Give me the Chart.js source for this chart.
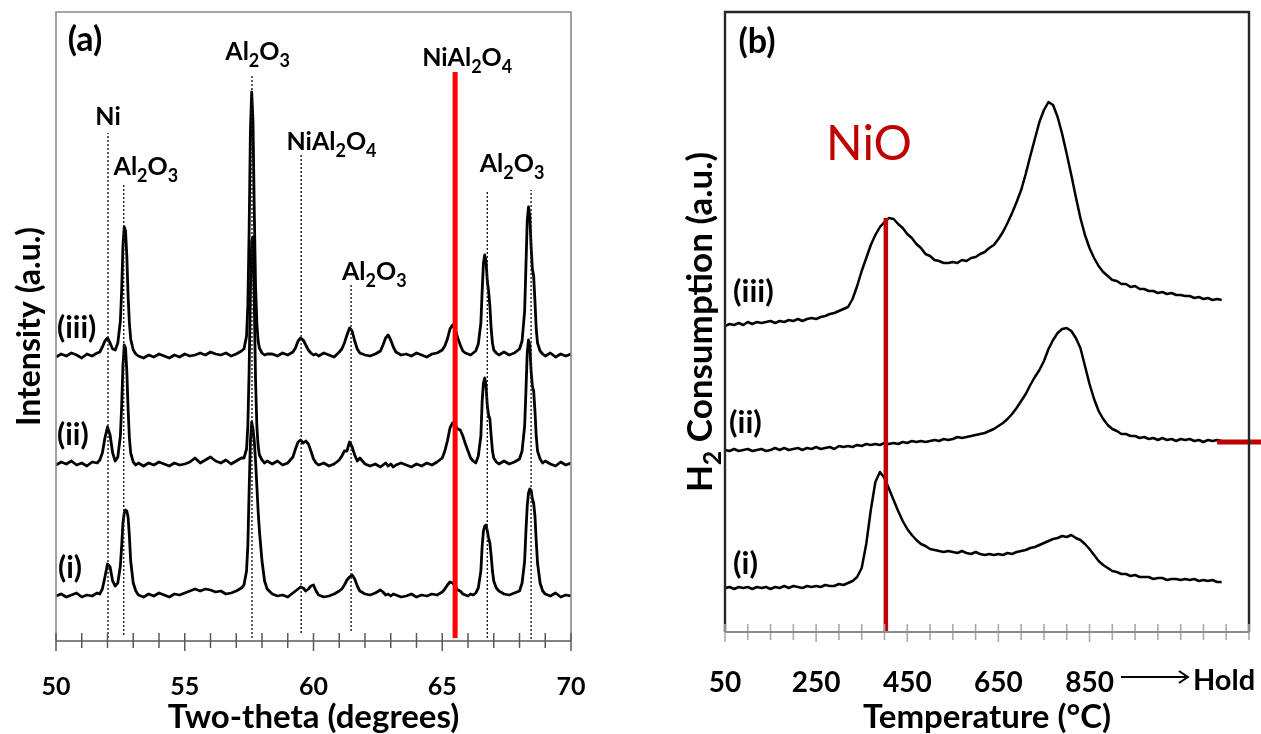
<!DOCTYPE html>
<html>
<head>
<meta charset="utf-8">
<title>XRD and H2-TPR</title>
<script src="https://cdn.jsdelivr.net/npm/chart.js@4.4.1/dist/chart.umd.min.js"></script>
<style>
  html, body { margin: 0; padding: 0; background: #fff; }
  #wrap { position: relative; width: 1261px; height: 734px; overflow: hidden; background: #fff; }
  #xrd { position: absolute; left: 0; top: 0; }
  #tpr { position: absolute; left: 640px; top: 0; }
</style>
</head>
<body>
<div id="wrap">
  <canvas id="xrd" width="640" height="734"></canvas>
  <canvas id="tpr" width="621" height="734"></canvas>
</div>
<script>
// ---------------- (a) XRD patterns ----------------
// scan angles (degrees 2-theta), finer steps around the reflections
const twoTheta = [
  50.0, 50.2, 50.4, 50.6, 50.8, 51.0, 51.2, 51.4, 51.6,
  51.7, 51.8, 51.9, 52.0, 52.1, 52.2, 52.3, 52.4, 52.5, 52.55, 52.6, 52.65, 52.7, 52.75, 52.8, 52.85, 52.9, 53.0, 53.1, 53.2,
  53.4, 53.6, 53.8, 54.0, 54.2, 54.4, 54.6, 54.8, 55.0, 55.2, 55.4, 55.6, 55.8, 56.0, 56.2, 56.4, 56.6, 56.8, 57.0, 57.2,
  57.3, 57.4, 57.45, 57.5, 57.55, 57.6, 57.65, 57.7, 57.75, 57.8, 57.85, 57.9, 58.0, 58.1, 58.2,
  58.4, 58.6, 58.8, 59.0, 59.2, 59.3, 59.4, 59.5, 59.6, 59.7, 59.8, 59.9, 60.0, 60.1, 60.2, 60.4, 60.6, 60.8, 61.0,
  61.1, 61.2, 61.3, 61.4, 61.5, 61.6, 61.7, 61.8, 62.0, 62.2, 62.4, 62.6, 62.7, 62.8, 62.9, 63.0, 63.1, 63.2, 63.4,
  63.6, 63.8, 64.0, 64.2, 64.4, 64.6, 64.8, 65.0, 65.1, 65.2, 65.3, 65.4, 65.5, 65.6, 65.7, 65.8, 65.9, 66.0, 66.1, 66.2, 66.3, 66.4, 66.5,
  66.55, 66.6, 66.65, 66.7, 66.75, 66.8, 66.85, 66.9, 66.95, 67.0, 67.1, 67.2, 67.4, 67.6, 67.8, 68.0, 68.1, 68.2,
  68.25, 68.3, 68.35, 68.4, 68.45, 68.5, 68.55, 68.6, 68.65, 68.7, 68.8, 68.9, 69.0, 69.2, 69.4, 69.6, 69.8, 70.0
];

// intensities (a.u., patterns stacked with offsets)
const xrdI = [
  45, 47, 44, 46, 48, 44, 46, 45, 48,
  47, 52, 64, 77, 74, 60, 55, 58, 75, 95, 118, 128, 131, 130, 124, 105, 80, 58, 50, 46,
  44, 47, 45, 48, 46, 44, 47, 46, 48, 50, 52, 50, 52, 51, 49, 50, 47, 48, 50, 53,
  56, 70, 95, 150, 200, 219, 212, 200, 180, 155, 130, 110, 80, 60, 52,
  47, 45, 46, 44, 48, 50, 52, 54, 53, 50, 52, 55, 56, 50, 46, 44, 45, 47, 50,
  52, 56, 61, 64, 66, 62, 55, 50, 47, 46, 48, 51, 49, 46, 47, 45, 47, 46, 44,
  45, 47, 44, 46, 45, 47, 46, 49, 52, 56, 59, 58, 55, 51, 50, 47, 46, 45, 47, 46, 48, 53, 70,
  95, 110, 115, 116, 110, 103, 98, 85, 70, 60, 53, 50, 47, 46, 48, 50, 58, 80,
  110, 135, 148, 152, 151, 142, 138, 125, 100, 78, 58, 50, 47, 45, 48, 44, 46, 45
];
const xrdII = [
  176, 179, 177, 180, 176, 178, 175, 179, 178,
  181, 188, 203, 214, 206, 188, 180, 184, 205, 235, 275, 296, 293, 270, 232, 203, 188, 179, 176, 178,
  175, 178, 176, 179, 177, 175, 178, 176, 177, 179, 183, 178, 181, 184, 180, 178, 181, 177, 180, 183,
  183, 192, 215, 270, 350, 400, 404, 340, 260, 215, 195, 186, 181, 178, 180,
  177, 180, 176, 178, 184, 192, 199, 201, 198, 200, 197, 190, 182, 178, 176, 178, 175, 177, 181,
  185, 190, 190, 199, 194, 186, 180, 183, 177, 175, 177, 174, 176, 178, 175, 177, 174, 176, 178,
  176, 174, 177, 175, 178, 176, 179, 183, 190, 200, 213, 218, 216, 212, 211, 205, 197, 190, 183, 180, 178, 185, 205,
  240, 258, 263, 255, 235, 226, 222, 205, 190, 183, 179, 177, 180, 177, 179, 182, 190, 215,
  250, 288, 301, 296, 270, 255, 250, 230, 205, 190, 182, 178, 180, 177, 175, 179, 176, 178
];
const xrdIII = [
  284, 287, 285, 288, 286, 283, 287, 285, 288,
  289, 294, 300, 303, 298, 292, 291, 298, 320, 350, 395, 414, 410, 385, 345, 318, 302, 291, 287, 285,
  283, 286, 284, 287, 285, 283, 286, 284, 287, 285, 286, 288, 286, 289, 287, 286, 288, 285, 287, 290,
  292, 305, 335, 410, 510, 549, 520, 430, 355, 318, 300, 293, 288, 286, 287,
  287, 285, 288, 286, 289, 293, 300, 303, 301, 296, 291, 288, 286, 287, 285, 288, 286, 284, 289,
  292, 298, 306, 313, 310, 300, 292, 288, 286, 285, 287, 290, 296, 303, 306, 301, 294, 289, 286,
  287, 285, 288, 286, 284, 287, 288, 291, 295, 302, 312, 316, 312, 303, 296, 290, 288, 287, 286, 288, 290, 297, 318,
  350, 378, 386, 380, 360, 350, 335, 312, 298, 291, 288, 286, 289, 286, 288, 292, 300, 330,
  375, 420, 434, 425, 395, 372, 365, 340, 312, 298, 290, 287, 285, 288, 284, 287, 285, 287
];

// reference reflections: angle, and the intensity levels where each marker starts and ends
const phaseAngles = [52.02, 52.63, 57.61, 59.52, 61.46, 66.75, 68.45];
const phaseTops   = [508, 456, 566, 486, 356, 451, 451];
const phaseBottoms = [3, 6, 3, 8, 10, 3, 2];
const phaseNames  = ['Ni', 'Al2O3', 'Al2O3', 'NiAl2O4', 'Al2O3', 'NiAl2O4', 'Al2O3'];
const spinelAngle = 65.5;      // highlighted NiAl2O4 reflection
const spinelTop = 569;
const xrdTickLabels = [50, 55, 60, 65, 70];

// ---------------- (b) H2-TPR profiles ----------------
const tprTemp = [
  50, 60, 70, 80, 90, 100, 110, 120, 130, 140,
  150, 160, 170, 180, 190, 200, 210, 220, 230, 240,
  250, 260, 270, 280, 290, 300, 310, 320, 330, 340,
  350, 360, 370, 380, 390, 400, 410, 420, 430, 440,
  450, 460, 470, 480, 490, 500, 510, 520, 530, 540,
  550, 560, 570, 580, 590, 600, 610, 620, 630, 640,
  650, 660, 670, 680, 690, 700, 710, 720, 730, 740,
  750, 760, 770, 780, 790, 800, 810, 820, 830, 840,
  850, 860, 870, 880, 890, 900, 910, 920, 930, 940,
  950, 960, 970, 980, 990, 1000, 1010, 1020, 1030, 1040,
  1050, 1060, 1070, 1080, 1090, 1100, 1110, 1120, 1130, 1140
];
const tprI = [
  44, 45, 43, 45, 44, 45, 43, 45, 44, 45,
  43, 45, 44, 46, 44, 46, 45, 44, 46, 45,
  46, 45, 47, 46, 46, 48, 47, 49, 51, 55,
  64, 88, 122, 150, 160, 154, 143, 132, 121, 111,
  103, 97, 92, 88, 86, 83, 82, 81, 80, 81,
  80, 79, 81, 79, 78, 80, 78, 77, 78, 77,
  78, 77, 79, 78, 80, 81, 82, 84, 85, 87,
  89, 91, 93, 94, 96, 95, 97, 94, 92, 88,
  83, 77, 71, 67, 64, 61, 60, 58, 58, 56,
  57, 55, 55, 55, 53, 54, 54, 52, 53, 53,
  52, 53, 52, 53, 51, 52, 51, 52, 50, 50
];
const tprII = [
  182, 181, 183, 181, 182, 183, 181, 182, 183, 181,
  182, 184, 182, 184, 182, 183, 184, 182, 184, 183,
  185, 183, 184, 185, 183, 186, 185, 186, 185, 187,
  186, 188, 187, 188, 187, 189, 188, 189, 188, 190,
  189, 191, 190, 191, 190, 191, 192, 191, 193, 192,
  193, 195, 194, 195, 196, 197, 198, 199, 201, 203,
  206, 209, 213, 218, 224, 231, 238, 247, 255, 262,
  271, 283, 292, 299, 303, 304, 301, 294, 284, 266,
  248, 233, 221, 213, 207, 203, 201, 198, 198, 196,
  196, 194, 195, 193, 194, 192, 194, 192, 193, 191,
  193, 192, 193, 191, 192, 190, 192, 191, 192, 191
];
const tprIII = [
  306, 308, 307, 309, 307, 310, 308, 310, 309, 310,
  311, 309, 311, 310, 312, 311, 313, 311, 313, 314,
  313, 315, 316, 318, 319, 321, 323, 325, 333, 346,
  361, 374, 387, 397, 405, 410, 414, 413, 408, 404,
  398, 394, 388, 384, 378, 376, 372, 371, 369, 369,
  370, 369, 372, 371, 374, 375, 378, 380, 384, 387,
  393, 400, 409, 419, 430, 442, 458, 476, 493, 510,
  522, 530, 527, 515, 498, 478, 457, 435, 414, 397,
  384, 374, 366, 360, 356, 352, 351, 348, 348, 345,
  346, 343, 343, 341, 341, 339, 340, 338, 339, 337,
  337, 336, 336, 334, 335, 333, 334, 332, 333, 332
];
const nioTemp = 403;           // NiO reduction marker
const nioTop = 414;
const holdStart = 1130;        // isothermal hold marker on profile (ii)
const holdLevel = 190;
const tprTickLabels = [50, 250, 450, 650, 850];

// ---------------- helpers ----------------
const FONT = 'Lato';

function pairs(xs, ys) { return xs.map((x, i) => ({ x: x, y: ys[i] })); }

// text in which digit runs are set as subscripts (chemical formulae)
function drawFormula(ctx, text, x, baseY, size, weight, align) {
  const runs = text.match(/\d+|\D+/g);
  const mainF = weight + ' ' + size + 'px ' + FONT;
  const subF = weight + ' ' + Math.round(size * 0.7) + 'px ' + FONT;
  let total = 0;
  const widths = runs.map(r => {
    ctx.font = /\d/.test(r) ? subF : mainF;
    const w = ctx.measureText(r).width;
    total += w;
    return w;
  });
  let cx = align === 'left' ? x : x - total / 2;
  ctx.textAlign = 'left';
  ctx.textBaseline = 'alphabetic';
  runs.forEach((r, i) => {
    const sub = /\d/.test(r);
    ctx.font = sub ? subF : mainF;
    ctx.fillText(r, cx, baseY + (sub ? size * 0.28 : 0));
    cx += widths[i];
  });
}

function drawVerticalTitle(ctx, text, cx, cy, size) {
  ctx.save();
  ctx.translate(cx + size * 0.36, cy);
  ctx.rotate(-Math.PI / 2);
  drawFormula(ctx, text, 0, 0, size, 'bold', 'center');
  ctx.restore();
}

// plot frame, bottom axis line and crossing tick marks
const frameTicks = {
  id: 'frameTicks',
  afterDraw(chart, args, o) {
    const { ctx, chartArea: a } = chart;
    const x = chart.scales.x;
    ctx.save();
    ctx.lineCap = 'butt';
    ctx.strokeStyle = o.frameColor;
    ctx.lineWidth = o.frameWidth;
    ctx.beginPath();
    ctx.moveTo(a.left, a.bottom);
    ctx.lineTo(a.left, a.top);
    ctx.lineTo(a.right, a.top);
    ctx.lineTo(a.right, a.bottom);
    ctx.stroke();
    ctx.strokeStyle = o.tickColor;
    ctx.lineWidth = o.tickWidth;
    x.ticks.forEach(t => {
      const px = x.getPixelForValue(t.value);
      const major = o.majorLabels.indexOf(t.value) >= 0;
      ctx.beginPath();
      ctx.moveTo(px, a.bottom - o.tickIn);
      ctx.lineTo(px, a.bottom + (major ? o.majorOut : o.minorOut));
      ctx.stroke();
    });
    ctx.strokeStyle = o.axisColor;
    ctx.lineWidth = o.axisWidth;
    ctx.beginPath();
    ctx.moveTo(a.left, a.bottom);
    ctx.lineTo(a.right, a.bottom);
    ctx.stroke();
    ctx.restore();
  }
};

// phase labels, sample labels, panel letter and axis title of the XRD panel
const phaseLabelAnchors = {
  angle: [52.02, 53.49, 57.83, 60.70, 62.36, 65.97, 67.71],
  level: [516, 466, 581, 491, 361, 575, 469]
};
const xrdAnnotations = {
  id: 'xrdAnnotations',
  afterDraw(chart) {
    const { ctx, chartArea: a } = chart;
    const { x, y } = chart.scales;
    ctx.save();
    ctx.fillStyle = '#000';
    phaseNames.forEach((name, i) => {
      drawFormula(ctx, name, x.getPixelForValue(phaseLabelAnchors.angle[i]),
        y.getPixelForValue(phaseLabelAnchors.level[i]), 25, 'bold', 'center');
    });
    ctx.font = 'bold 30px ' + FONT;
    ctx.textAlign = 'left';
    ctx.textBaseline = 'middle';
    ctx.fillText('(iii)', a.left + 1, y.getPixelForValue(313));
    ctx.fillText('(ii)', a.left + 1, y.getPixelForValue(206));
    ctx.fillText('(i)', a.left + 2, y.getPixelForValue(73));
    ctx.font = 'bold 34px ' + FONT;
    ctx.textAlign = 'center';
    ctx.fillText('(a)', a.left + 29, a.top + 28);
    drawVerticalTitle(ctx, 'Intensity (a.u.)', 28, (a.top + a.bottom) / 2, 32);
    ctx.restore();
  }
};

// sample labels, NiO marker text, panel letter, axis title and hold arrow of the TPR panel
const tprAnnotations = {
  id: 'tprAnnotations',
  afterDraw(chart) {
    const { ctx, chartArea: a } = chart;
    const { x, y } = chart.scales;
    ctx.save();
    ctx.fillStyle = '#000';
    ctx.font = 'bold 31px ' + FONT;
    ctx.textAlign = 'left';
    ctx.textBaseline = 'middle';
    ctx.fillText('(iii)', a.left + 8, y.getPixelForValue(340));
    ctx.fillText('(ii)', a.left + 4, y.getPixelForValue(209));
    ctx.fillText('(i)', a.left + 8, y.getPixelForValue(68));
    ctx.font = 'bold 34px ' + FONT;
    ctx.textAlign = 'center';
    ctx.fillText('(b)', a.left + 32, a.top + 30);
    ctx.fillStyle = '#c00000';
    ctx.font = '48px ' + FONT;
    ctx.fillText('NiO', x.getPixelForValue(366), y.getPixelForValue(487));
    ctx.fillStyle = '#000';
    drawVerticalTitle(ctx, 'H2 Consumption (a.u.)', 59, (a.top + a.bottom) / 2, 35);
    // end of the ramp -> isothermal hold
    const ay = a.bottom + 45;
    const x0 = x.getPixelForValue(919), x1 = x.getPixelForValue(1066);
    ctx.strokeStyle = '#000';
    ctx.lineWidth = 2;
    ctx.beginPath();
    ctx.moveTo(x0, ay); ctx.lineTo(x1, ay);
    ctx.moveTo(x1 - 9, ay - 6); ctx.lineTo(x1, ay); ctx.lineTo(x1 - 9, ay + 6);
    ctx.stroke();
    ctx.font = 'bold 29px ' + FONT;
    ctx.textAlign = 'left';
    ctx.fillText('Hold', x.getPixelForValue(1077), a.bottom + 49);
    ctx.restore();
  }
};

function markerLine(xv, y0, y1, color, width, dash, order) {
  return {
    data: [{ x: xv, y: y0 }, { x: xv, y: y1 }],
    borderColor: color, borderWidth: width, borderDash: dash || [],
    pointRadius: 0, order: order
  };
}

function trace(data, width) {
  return { data: data, borderColor: '#000', borderWidth: width, pointRadius: 0, order: 3 };
}

Chart.defaults.font.family = FONT;

function build() {
  // ---- panel (a) ----
  const xrdSets = [
    markerLine(spinelAngle, 3, spinelTop, '#ff0000', 5, null, 0),
    ...phaseAngles.map((ang, i) => markerLine(ang, phaseBottoms[i], phaseTops[i], '#1a1a1a', 1.4, [2, 2], 1)),
    trace(pairs(twoTheta, xrdIII), 2.8),
    trace(pairs(twoTheta, xrdII), 2.8),
    trace(pairs(twoTheta, xrdI), 2.8)
  ];
  new Chart(document.getElementById('xrd'), {
    type: 'line',
    data: { datasets: xrdSets },
    options: {
      responsive: false, animation: false, events: [],
      layout: { padding: { left: 56, right: 69, top: 12, bottom: 0 } },
      elements: { line: { tension: 0, borderJoinStyle: 'round' } },
      plugins: {
        legend: { display: false }, tooltip: { enabled: false },
        frameTicks: {
          frameColor: '#8a8a8a', frameWidth: 1.6, axisColor: '#5a5a5a', axisWidth: 1.6,
          tickColor: '#5a5a5a', tickWidth: 1.5, tickIn: 8, minorOut: 7, majorOut: 10,
          majorLabels: xrdTickLabels
        }
      },
      scales: {
        x: {
          type: 'linear', min: 50, max: 70,
          afterFit(s) { s.height = 93; s.paddingLeft = 0; s.paddingRight = 0; },
          grid: { display: false, drawTicks: false }, border: { display: false },
          ticks: {
            stepSize: 1, autoSkip: false, maxRotation: 0, padding: 31, color: '#000',
            font: { family: FONT, size: 25, weight: 'bold' },
            callback: v => xrdTickLabels.indexOf(v) >= 0 ? String(v) : ''
          },
          title: {
            display: true, text: 'Two-theta (degrees)', color: '#000', padding: 0,
            font: { family: FONT, size: 33, weight: 'bold', lineHeight: 1.0 }
          }
        },
        y: { display: false, min: 0, max: 629 }
      }
    },
    plugins: [frameTicks, xrdAnnotations]
  });

  // ---- panel (b) ----
  const tprSets = [
    markerLine(nioTemp, 0, nioTop, '#c00000', 4.5, null, 0),
    { data: [{ x: holdStart, y: holdLevel }, { x: 1240, y: holdLevel }], borderColor: '#c00000',
      borderWidth: 5, pointRadius: 0, order: 0, clip: false },
    trace(pairs(tprTemp, tprIII), 2.5),
    trace(pairs(tprTemp, tprII), 2.5),
    trace(pairs(tprTemp, tprI), 2.5)
  ];
  new Chart(document.getElementById('tpr'), {
    type: 'line',
    data: { datasets: tprSets },
    options: {
      responsive: false, animation: false, events: [],
      layout: { padding: { left: 85, right: 12, top: 12, bottom: 0 } },
      elements: { line: { tension: 0, borderJoinStyle: 'round' } },
      plugins: {
        legend: { display: false }, tooltip: { enabled: false },
        frameTicks: {
          frameColor: '#262626', frameWidth: 2.4, axisColor: '#8c8c8c', axisWidth: 2,
          tickColor: '#a8a8a8', tickWidth: 1.6, tickIn: 8, minorOut: 8, majorOut: 10,
          majorLabels: tprTickLabels
        }
      },
      scales: {
        x: {
          type: 'linear', min: 50, max: 1200,
          afterFit(s) { s.height = 102; s.paddingLeft = 0; s.paddingRight = 0; },
          grid: { display: false, drawTicks: false }, border: { display: false },
          ticks: {
            stepSize: 50, autoSkip: false, maxRotation: 0, padding: 34, color: '#000',
            font: { family: FONT, size: 28, weight: 'bold' },
            callback: v => tprTickLabels.indexOf(v) >= 0 ? String(v) : ''
          },
          title: {
            display: true, text: 'Temperature (°C)', color: '#000', padding: 0,
            font: { family: FONT, size: 33, weight: 'bold', lineHeight: 1.0 }
          }
        },
        y: { display: false, min: 0, max: 620 }
      }
    },
    plugins: [frameTicks, tprAnnotations]
  });
}

const faces = ['bold 25px Lato', '48px Lato'];
Promise.all(faces.map(f => document.fonts.load(f).catch(() => null))).then(build, build);
</script>
</body>
</html>
